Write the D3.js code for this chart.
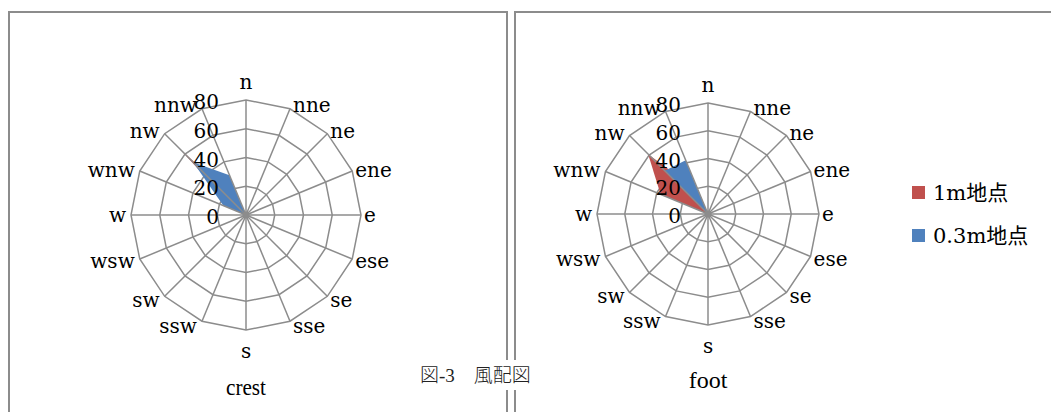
<!DOCTYPE html>
<html>
<head>
<meta charset="utf-8">
<script src="https://cdn.jsdelivr.net/npm/d3@7"></script>
<style>
  html, body { margin: 0; padding: 0; background: #fff; }
  svg { display: block; }
</style>
</head>
<body>
<svg id="chart" width="1051" height="412"></svg>
<script>
// 16 compass directions, clockwise from north
const directions = ["n","nne","ne","ene","e","ese","se","sse","s","ssw","sw","wsw","w","wnw","nw","nnw"];
const ringTicks = [0, 20, 40, 60, 80];

// frequency per direction (%), crest station
const crest1m  = [0,0,0,0,0,0,0,0,0,0,0,0,0, 7,66, 7];
const crest03m = [0,0,0,0,0,0,0,0,0,0,0,0,0,17,52,30];
// frequency per direction (%), foot station
const foot1m   = [0,0,0,0,0,0,0,0,0,0,0,0,0,37,61,18];
const foot03m  = [0,0,0,0,0,0,0,0,0,0,0,0,0, 0,44,42];

const seriesNames = ["1m地点", "0.3m地点"];
const seriesColors = ["#C0504D", "#4F81BD"];
const caption = "図-3　風配図";

const svg = d3.select("#chart");
const GRID = "#8c8c8c";
const labelFont = "'DejaVu Serif', 'Noto Sans CJK JP', serif";
const fs = 20;

// panel frames
svg.append("rect").attr("x", 9).attr("y", 12).attr("width", 498).attr("height", 420)
  .attr("fill", "none").attr("stroke", GRID).attr("stroke-width", 2);
svg.append("rect").attr("x", 515).attr("y", 12).attr("width", 560).attr("height", 420)
  .attr("fill", "none").attr("stroke", GRID).attr("stroke-width", 2);

function radar(cx, cy, R, title, titleY, titleWidth, s1, s2) {
  const g = svg.append("g").attr("transform", `translate(${cx},${cy})`);
  const r = d3.scaleLinear().domain([0, 80]).range([0, R]);
  const ang = d3.scaleLinear().domain([0, directions.length]).range([0, 2 * Math.PI]);
  const idx = d3.range(directions.length);

  const ringLine = d3.lineRadial()
    .angle((d, i) => ang(i)).radius(d => r(d)).curve(d3.curveLinearClosed);

  // rings
  g.selectAll("path.ring").data(ringTicks.filter(t => t > 0)).join("path")
    .attr("class", "ring")
    .attr("d", t => ringLine(idx.map(() => t)))
    .attr("fill", "none").attr("stroke", GRID).attr("stroke-width", 1.5);

  // series fills (second series on top)
  [s1, s2].forEach((vals, k) => {
    g.append("path")
      .attr("d", ringLine(vals))
      .attr("fill", seriesColors[k]).attr("stroke", "none");
  });

  // spokes
  g.selectAll("line.spoke").data(idx).join("line")
    .attr("class", "spoke")
    .attr("x1", 0).attr("y1", 0)
    .attr("x2", i => r(80) * Math.sin(ang(i)))
    .attr("y2", i => -r(80) * Math.cos(ang(i)))
    .attr("stroke", GRID).attr("stroke-width", 1.5);
  g.append("circle").attr("r", 3.5).attr("fill", GRID);

  // direction labels
  idx.forEach(i => {
    const s = Math.sin(ang(i)), c = Math.cos(ang(i));
    const vx = r(80) * s, vy = -r(80) * c;
    let x, yc, anchor;
    if (Math.abs(s) < 0.01) {
      anchor = "middle"; x = vx; yc = vy + (c > 0 ? -16.5 : 23);
    } else if (s > 0) {
      anchor = "start"; x = vx + 3; yc = vy + 2 - 4.5 * c;
    } else {
      anchor = "end"; x = vx - 5; yc = vy + 2 - 4.5 * c;
    }
    g.append("text").text(directions[i])
      .attr("x", x).attr("y", yc + 0.27 * fs)
      .attr("text-anchor", anchor)
      .attr("font-family", labelFont).attr("font-size", fs).attr("fill", "#000");
  });

  // value axis labels
  g.selectAll("text.tick").data(ringTicks).join("text")
    .attr("class", "tick")
    .attr("x", -27).attr("y", t => -r(t) + 9)
    .attr("text-anchor", "end")
    .attr("font-family", labelFont).attr("font-size", fs).attr("fill", "#000")
    .text(t => t);

  // chart title
  const tt = svg.append("text").text(title)
    .attr("x", cx).attr("y", titleY)
    .attr("text-anchor", "middle")
    .attr("font-family", "'Liberation Serif', serif").attr("font-size", 24).attr("fill", "#000");
  if (titleWidth) tt.attr("textLength", titleWidth).attr("lengthAdjust", "spacingAndGlyphs");
}

radar(246, 215, 115, "crest", 395, 40, crest1m, crest03m);
radar(708, 214, 111, "foot", 388, null, foot1m, foot03m);

// legend
const legend = svg.append("g").attr("transform", "translate(912,186)");
seriesNames.forEach((name, k) => {
  legend.append("rect").attr("x", 0).attr("y", k * 43).attr("width", 13).attr("height", 13)
    .attr("fill", seriesColors[k]);
  legend.append("text").text(name)
    .attr("x", 21).attr("y", k * 43 + 6.5 + 7.5)
    .attr("font-family", labelFont).attr("font-size", 21).attr("fill", "#000");
});

// figure caption over the panel gap
svg.append("rect").attr("x", 414).attr("y", 360).attr("width", 136).attr("height", 30).attr("fill", "#fff");
svg.append("text").text(caption)
  .attr("x", 420).attr("y", 382)
  .attr("font-family", "'Liberation Serif', 'Noto Sans CJK JP', serif")
  .attr("font-size", 19).attr("font-weight", 300).attr("fill", "#222");
</script>
</body>
</html>
